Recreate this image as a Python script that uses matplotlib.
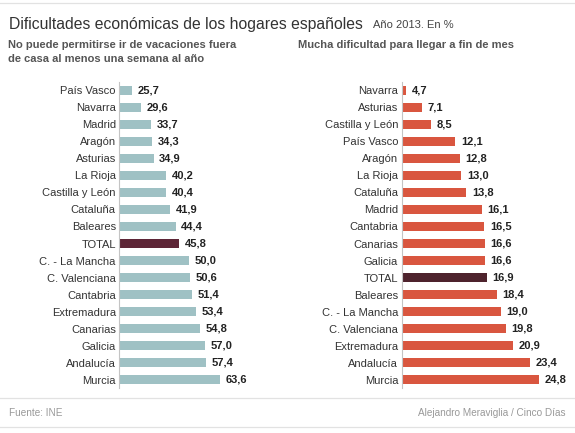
import matplotlib
matplotlib.use("Agg")
import matplotlib.pyplot as plt
from matplotlib.lines import Line2D

plt.rcParams['font.family'] = ['Liberation Sans', 'DejaVu Sans']

# ---- data ----
left_regions = ["País Vasco", "Navarra", "Madrid", "Aragón", "Asturias", "La Rioja",
                "Castilla y León", "Cataluña", "Baleares", "TOTAL", "C. - La Mancha",
                "C. Valenciana", "Cantabria", "Extremadura", "Canarias", "Galicia",
                "Andalucía", "Murcia"]
left_values = [25.7, 29.6, 33.7, 34.3, 34.9, 40.2, 40.4, 41.9, 44.4, 45.8, 50.0,
               50.6, 51.4, 53.4, 54.8, 57.0, 57.4, 63.6]

right_regions = ["Navarra", "Asturias", "Castilla y León", "País Vasco", "Aragón",
                 "La Rioja", "Cataluña", "Madrid", "Cantabria", "Canarias", "Galicia",
                 "TOTAL", "Baleares", "C. - La Mancha", "C. Valenciana", "Extremadura",
                 "Andalucía", "Murcia"]
right_values = [4.7, 7.1, 8.5, 12.1, 12.8, 13.0, 13.8, 16.1, 16.5, 16.6, 16.6,
                16.9, 18.4, 19.0, 19.8, 20.9, 23.4, 24.8]

title = "Dificultades económicas de los hogares españoles"
subtitle = "Año 2013. En %"
left_title = "No puede permitirse ir de vacaciones fuera\nde casa al menos una semana al año"
right_title = "Mucha dificultad para llegar a fin de mes"
source = "Fuente: INE"
credit = "Alejandro Meraviglia / Cinco Días"

W, H = 575, 433
fig = plt.figure(figsize=(W / 100, H / 100), dpi=100)
fig.patch.set_facecolor("white")


def px(x, y):
    return x / W, 1 - y / H


def make_axes(x0, width, top, bottom):
    return fig.add_axes([x0 / W, 1 - bottom / H, width / W, (bottom - top) / H])


row_top = 90.3 - 8.5
row_bottom = 379.7 + 8.5


def draw_panel(ax, regions, values, xmin, xmax, color, total_color):
    ys = list(range(len(regions)))
    colors = [total_color if r == "TOTAL" else color for r in regions]
    ax.barh(ys, values, height=0.56, color=colors, left=0)
    ax.set_xlim(xmin, xmax)
    ax.set_ylim(len(regions) - 0.5, -0.5)
    ax.set_yticks(ys)
    ax.set_yticklabels(regions, fontsize=8, color="#333333")
    ax.tick_params(axis="y", length=0, pad=2.5)
    ax.set_xticks([])
    for s in ["top", "right", "bottom"]:
        ax.spines[s].set_visible(False)
    ax.spines["left"].set_color("#c4c4c4")
    ax.spines["left"].set_linewidth(0.8)
    for y, v in zip(ys, values):
        ax.annotate(f"{v:.1f}".replace(".", ","), xy=(v, y), xytext=(4, 0),
                    textcoords="offset points", va="center", ha="left",
                    fontsize=8, fontweight="bold", color="#222222")
    ax.patch.set_alpha(0)


axL = make_axes(119.3, 138.6, row_top, row_bottom)
draw_panel(axL, left_regions, left_values, 20, 80, "#9fc1c4", "#5e2637")

axR = make_axes(401.7, 171.9, row_top, row_bottom)
draw_panel(axR, right_regions, right_values, 4, 30, "#d9563f", "#4e232d")

# titles
fig.text(*px(9, 28.5), title, fontsize=11.3, color="#333333", va="baseline", ha="left")
fig.text(*px(373, 28.5), subtitle, fontsize=8, color="#444444", va="baseline", ha="left")
fig.text(*px(8, 47.5), left_title.split("\n")[0], fontsize=8, fontweight="bold",
         color="#555555", va="baseline", ha="left")
fig.text(*px(8, 61.5), left_title.split("\n")[1], fontsize=8, fontweight="bold",
         color="#555555", va="baseline", ha="left")
fig.text(*px(298, 47.5), right_title, fontsize=8, fontweight="bold",
         color="#555555", va="baseline", ha="left")

# footer
fig.text(*px(9, 416.5), source, fontsize=7.2, color="#999999", va="baseline", ha="left")
fig.text(*px(566, 416.5), credit, fontsize=7.2, color="#999999", va="baseline", ha="right")

# separator lines
for yy in (3, 398, 427):
    fig.add_artist(Line2D([0, 1], [1 - yy / H, 1 - yy / H], color="#e2e2e2", lw=0.9,
                          transform=fig.transFigure))

fig.savefig("out.png", dpi=100, facecolor="white")
